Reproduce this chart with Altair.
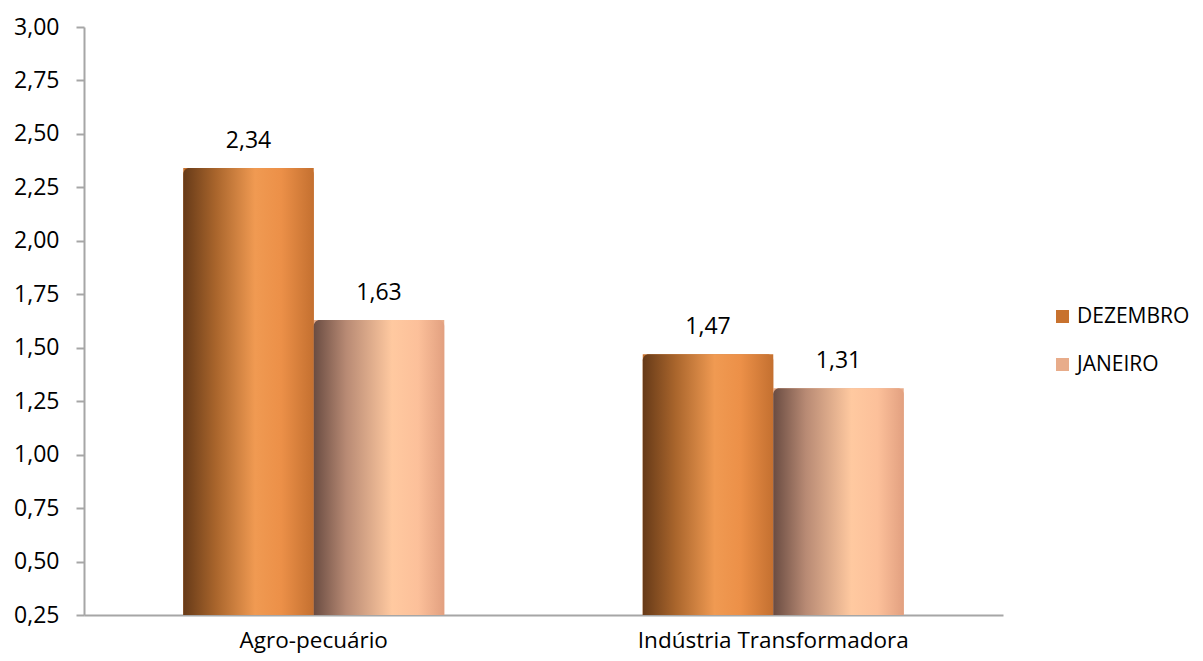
import altair as alt
import pandas as pd

categories = ["Agro-pecuário", "Agro-pecuário", "Indústria Transformadora", "Indústria Transformadora"]
series = ["DEZEMBRO", "JANEIRO", "DEZEMBRO", "JANEIRO"]
values = [2.34, 1.63, 1.47, 1.31]
y_ticks = [0.25, 0.5, 0.75, 1.0, 1.25, 1.5, 1.75, 2.0, 2.25, 2.5, 2.75, 3.0]

df = pd.DataFrame({"cat": categories, "serie": series, "valor": values})
df["rotulo"] = [f"{v:.2f}".replace(".", ",") for v in values]

FONT = "Open Sans"

grad_dez = alt.Gradient(
    gradient="linear", x1=0, x2=1, y1=0, y2=0,
    stops=[
        alt.GradientStop(color="#663a18", offset=0),
        alt.GradientStop(color="#a9652c", offset=0.25),
        alt.GradientStop(color="#f09a52", offset=0.55),
        alt.GradientStop(color="#ec9048", offset=0.75),
        alt.GradientStop(color="#c47030", offset=1),
    ],
)
grad_jan = alt.Gradient(
    gradient="linear", x1=0, x2=1, y1=0, y2=0,
    stops=[
        alt.GradientStop(color="#6a4c42", offset=0),
        alt.GradientStop(color="#b88a74", offset=0.25),
        alt.GradientStop(color="#ffc9a0", offset=0.6),
        alt.GradientStop(color="#fcc09a", offset=0.8),
        alt.GradientStop(color="#e2a080", offset=1),
    ],
)

x_enc = alt.X(
    "cat:N", sort=["Agro-pecuário", "Indústria Transformadora"],
    scale=alt.Scale(paddingInner=0.432, paddingOuter=0.216),
    axis=alt.Axis(title=None, labelAngle=0, ticks=False, labelPadding=14, labelLimit=500,
                  domainColor="#a6a6a6", domainWidth=2,
                  labelFont=FONT, labelFontSize=22.5, labelColor="#000000"),
)
xo_enc = alt.XOffset("serie:N", sort=["DEZEMBRO", "JANEIRO"],
                     scale=alt.Scale(paddingInner=0, paddingOuter=0))
y_enc = alt.Y(
    "valor:Q",
    scale=alt.Scale(domain=[0.25, 3.0], zero=False, nice=False),
    axis=alt.Axis(title=None, values=y_ticks, grid=False, tickSize=8,
                  tickColor="#a6a6a6", tickWidth=2, domainColor="#a6a6a6", domainWidth=2,
                  labelPadding=17, labelFont=FONT, labelFontSize=23, labelColor="#000000",
                  labelExpr="replace(format(datum.value, '.2f'), '.', ',')"),
)

base = alt.Chart(df).encode(x=x_enc, xOffset=xo_enc, y=y_enc, y2=alt.datum(0.25))

legend_bars = base.mark_bar().encode(
    color=alt.Color(
        "serie:N", sort=["DEZEMBRO", "JANEIRO"],
        scale=alt.Scale(domain=["DEZEMBRO", "JANEIRO"], range=["#c8722e", "#e8ac8a"]),
        legend=alt.Legend(
            title=None, orient="none", legendX=968, legendY=279,
            symbolType="square", symbolSize=170, symbolStrokeWidth=0,
            labelFont=FONT, labelFontSize=21, labelColor="#000000",
            rowPadding=26, labelOffset=4, padding=0, labelLimit=300,
        ),
    )
)

dez = base.mark_bar(fill=grad_dez, cornerRadiusTopLeft=6, cornerRadiusTopRight=6).transform_filter(
    alt.datum.serie == "DEZEMBRO"
)
jan = base.mark_bar(fill=grad_jan, cornerRadiusTopLeft=6, cornerRadiusTopRight=6).transform_filter(
    alt.datum.serie == "JANEIRO"
)

labels = alt.Chart(df).mark_text(
    font=FONT, fontSize=23, color="#000000", baseline="alphabetic", dy=-20
).encode(x=x_enc, xOffset=xo_enc, y=y_enc, text="rotulo:N")

chart = alt.layer(legend_bars, dez, jan, labels).properties(
    width=919, height=588,
    autosize=alt.AutoSizeParams(type="none"),
    padding={"left": 76, "top": 19, "right": 192, "bottom": 38},
).configure_view(stroke=None)

chart.save("out.html", embed_options={"renderer": "svg", "actions": False})
